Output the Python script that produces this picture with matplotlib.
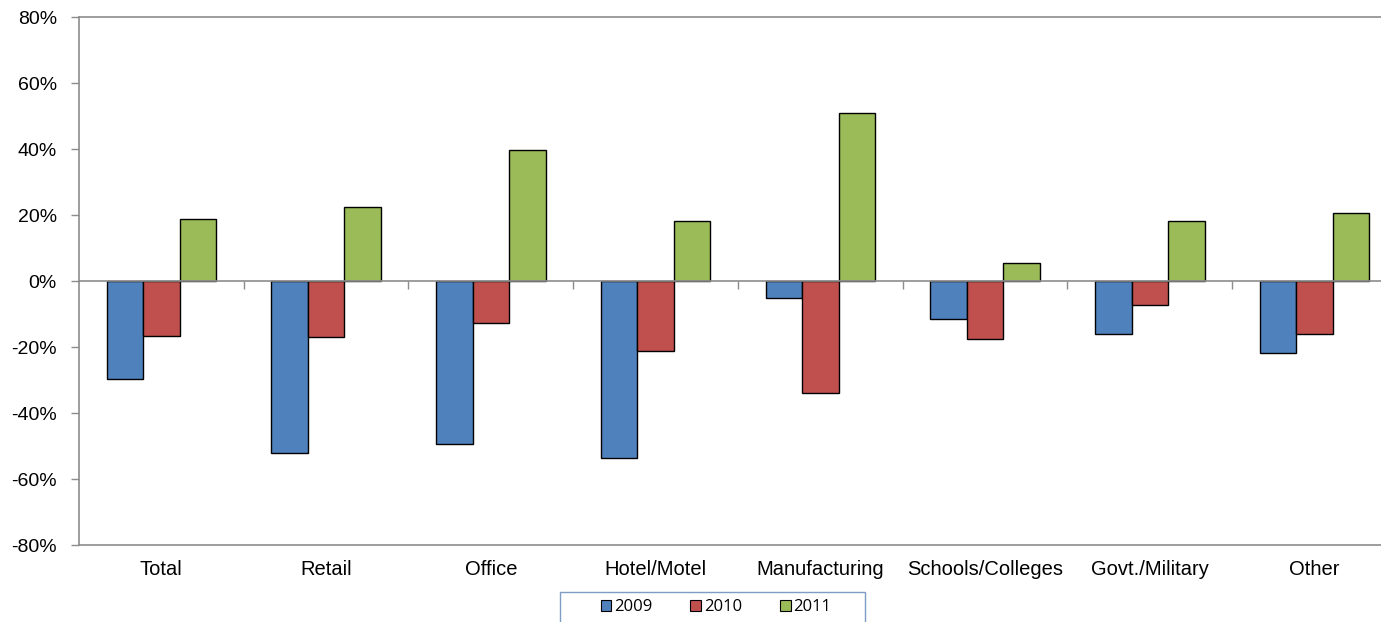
import numpy as np
import matplotlib.pyplot as plt
from matplotlib.patches import Patch, Rectangle

# === Data (percent change) ===
categories = ["Total", "Retail", "Office", "Hotel/Motel", "Manufacturing",
              "Schools/Colleges", "Govt./Military", "Other"]
years = ["2009", "2010", "2011"]
v2009 = [-29.7, -52.2, -49.5, -53.7, -5.2, -11.5, -16.1, -21.9]
v2010 = [-16.7, -17.0, -12.8, -21.3, -34.0, -17.6, -7.3, -16.1]
v2011 = [18.8, 22.5, 39.8, 18.2, 51.0, 5.5, 18.2, 20.6]
yticks = [-80, -60, -40, -20, 0, 20, 40, 60, 80]

colors = ["#4F81BD", "#C0504D", "#9BBB59"]
gray = "#8C8C8C"

plt.rcParams["font.family"] = ["Liberation Sans", "DejaVu Sans"]

W, H = 1381, 622
fig = plt.figure(figsize=(W / 100, H / 100), dpi=100)
ax = fig.add_axes([79 / W, 1 - 545 / H, (1397 - 79) / W, (545 - 17) / H])

x = np.arange(len(categories))
bw = 0.222
for k, (vals, c) in enumerate(zip([v2009, v2010, v2011], colors)):
    ax.bar(x + (k - 1) * bw, vals, width=bw, color=c, edgecolor="black",
           linewidth=1.0, zorder=3)

ax.set_xlim(-0.5, len(categories) - 0.5)
ax.set_ylim(-80, 80)
ax.set_yticks(yticks)
ax.set_yticklabels([f"{t}%" for t in yticks], fontsize=14)
ax.tick_params(axis="y", length=6, color=gray, width=1, pad=10)

# category labels below the plot area
ax.set_xticks(x)
ax.set_xticklabels(categories, fontsize=14.5)
ax.tick_params(axis="x", length=0, pad=11)

for side in ["left", "top", "bottom"]:
    ax.spines[side].set_color(gray)
    ax.spines[side].set_linewidth(1.2)
ax.spines["right"].set_visible(False)

# zero axis line with ticks between categories
zax = ax.secondary_xaxis(0.5)
zax.set_xticks(x[:-1] + 0.5)
zax.set_xticklabels([])
zax.tick_params(length=6, color=gray, width=1, direction="in")
for sp in zax.spines.values():
    sp.set_color(gray)
    sp.set_linewidth(1.2)
zax.set_zorder(4)

# legend box (cut by the bottom edge, as in the source)
fig.patches.append(Rectangle((560 / W, -0.05), (865 - 560) / W, 0.05 + 1 - 592 / H,
                             transform=fig.transFigure, fill=False,
                             edgecolor="#7F9CC4", linewidth=1.0))
handles = [Patch(facecolor=c, edgecolor="black", linewidth=0.8) for c in colors]
leg = fig.legend(handles, years, loc="center",
                 bbox_to_anchor=(716 / W, 1 - 607 / H), ncol=3,
                 fontsize=12, frameon=False,
                 handlelength=0.65, handleheight=0.65, handletextpad=0.15,
                 columnspacing=2.3, borderpad=0, borderaxespad=0)
for t in leg.get_texts():
    t.set_family(["Open Sans", "DejaVu Sans"])

fig.savefig("out.png", dpi=100)
